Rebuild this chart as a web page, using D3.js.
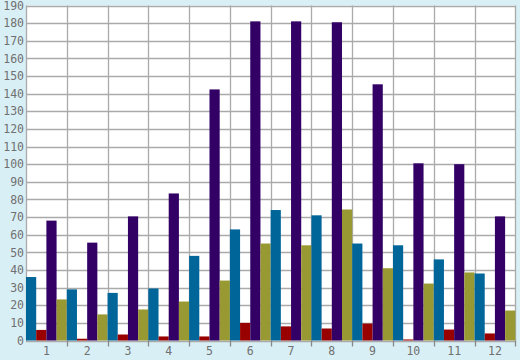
<!DOCTYPE html>
<html>
<head>
<meta charset="utf-8">
<script src="https://cdn.jsdelivr.net/npm/d3@7"></script>
<style>
html,body{margin:0;padding:0;background:#d9eff6;}
svg{display:block;}
</style>
</head>
<body>
<svg id="chart" width="520" height="360"></svg>
<script>
const categories = ["1","2","3","4","5","6","7","8","9","10","11","12"];
const seriesNames = ["A","B","C","D"];
const seriesA = [36, 29, 27, 29.5, 48, 63, 74, 71, 55, 54, 46, 38];
const seriesB = [6, 1, 3.4, 2.3, 2.3, 10, 8, 6.8, 9.6, 0.6, 6.2, 4];
const seriesC = [68, 55.5, 70.4, 83.4, 142.4, 181, 181, 180.5, 145.3, 100.5, 100, 70.4];
const seriesD = [23.3, 14.8, 17.6, 22.1, 34, 55, 54, 74.3, 41, 32.3, 38.6, 17];
const colors = ["#006699", "#990000", "#330066", "#999933"];
const yTicks = d3.range(0, 191, 10);

const svg = d3.select("#chart");
const x0 = 26, x1 = 515.3, yTop = 5.5, yBot = 340.5;

const x = d3.scaleBand().domain(categories).range([x0, x1]).paddingInner(0).paddingOuter(0);
const xs = d3.scaleBand().domain(seriesNames).range([0, x.bandwidth()]).padding(0);
const y = d3.scaleLinear().domain([0, 190]).range([yBot, yTop]);

const data = [seriesA, seriesB, seriesC, seriesD];
const crisp = v => Math.round(v) + 0.5;

svg.append("rect").attr("x", x0).attr("y", yTop).attr("width", x1 - x0).attr("height", yBot - yTop).attr("fill", "#ffffff");

svg.append("g").selectAll("line").data(yTicks).join("line")
  .attr("x1", x0).attr("x2", x1)
  .attr("y1", d => crisp(y(d))).attr("y2", d => crisp(y(d)))
  .attr("stroke", "#aaaaaa").attr("stroke-width", 1.3);

const bounds = categories.map(c => x(c)).concat([x1]);
svg.append("g").selectAll("line").data(bounds).join("line")
  .attr("x1", d => crisp(d)).attr("x2", d => crisp(d))
  .attr("y1", yTop).attr("y2", yBot)
  .attr("stroke", "#aaaaaa").attr("stroke-width", 1.3);

const groups = svg.append("g").selectAll("g").data(categories).join("g")
  .attr("transform", d => `translate(${x(d)},0)`);
groups.selectAll("rect").data((c, i) => data.map((s, k) => ({k, v: s[i]}))).join("rect")
  .attr("x", d => xs(seriesNames[d.k]))
  .attr("width", xs.bandwidth())
  .attr("y", d => y(d.v))
  .attr("height", d => y(0) - y(d.v))
  .attr("fill", d => colors[d.k]);

const yAxis = d3.axisLeft(y).tickValues(yTicks).tickSize(0).tickPadding(2);
const gy = svg.append("g").attr("transform", `translate(${x0},0)`).call(yAxis);
gy.select(".domain").remove();
gy.selectAll("text").attr("fill", "#707070").style("font-family", "'DejaVu Sans Mono', monospace").style("font-size", "11.5px");

const xAxis = d3.axisBottom(x).tickSize(0).tickPadding(6);
const gx = svg.append("g").attr("transform", `translate(0,${yBot})`).call(xAxis);
gx.select(".domain").remove();
gx.selectAll("text").attr("fill", "#707070").style("font-family", "'DejaVu Sans Mono', monospace").style("font-size", "11.5px");
svg.append("g").selectAll("line").data(bounds.slice(1)).join("line")
  .attr("x1", d => crisp(d)).attr("x2", d => crisp(d))
  .attr("y1", yBot).attr("y2", yBot + 6)
  .attr("stroke", "#888888").attr("stroke-width", 1.3);
</script>
</body>
</html>
